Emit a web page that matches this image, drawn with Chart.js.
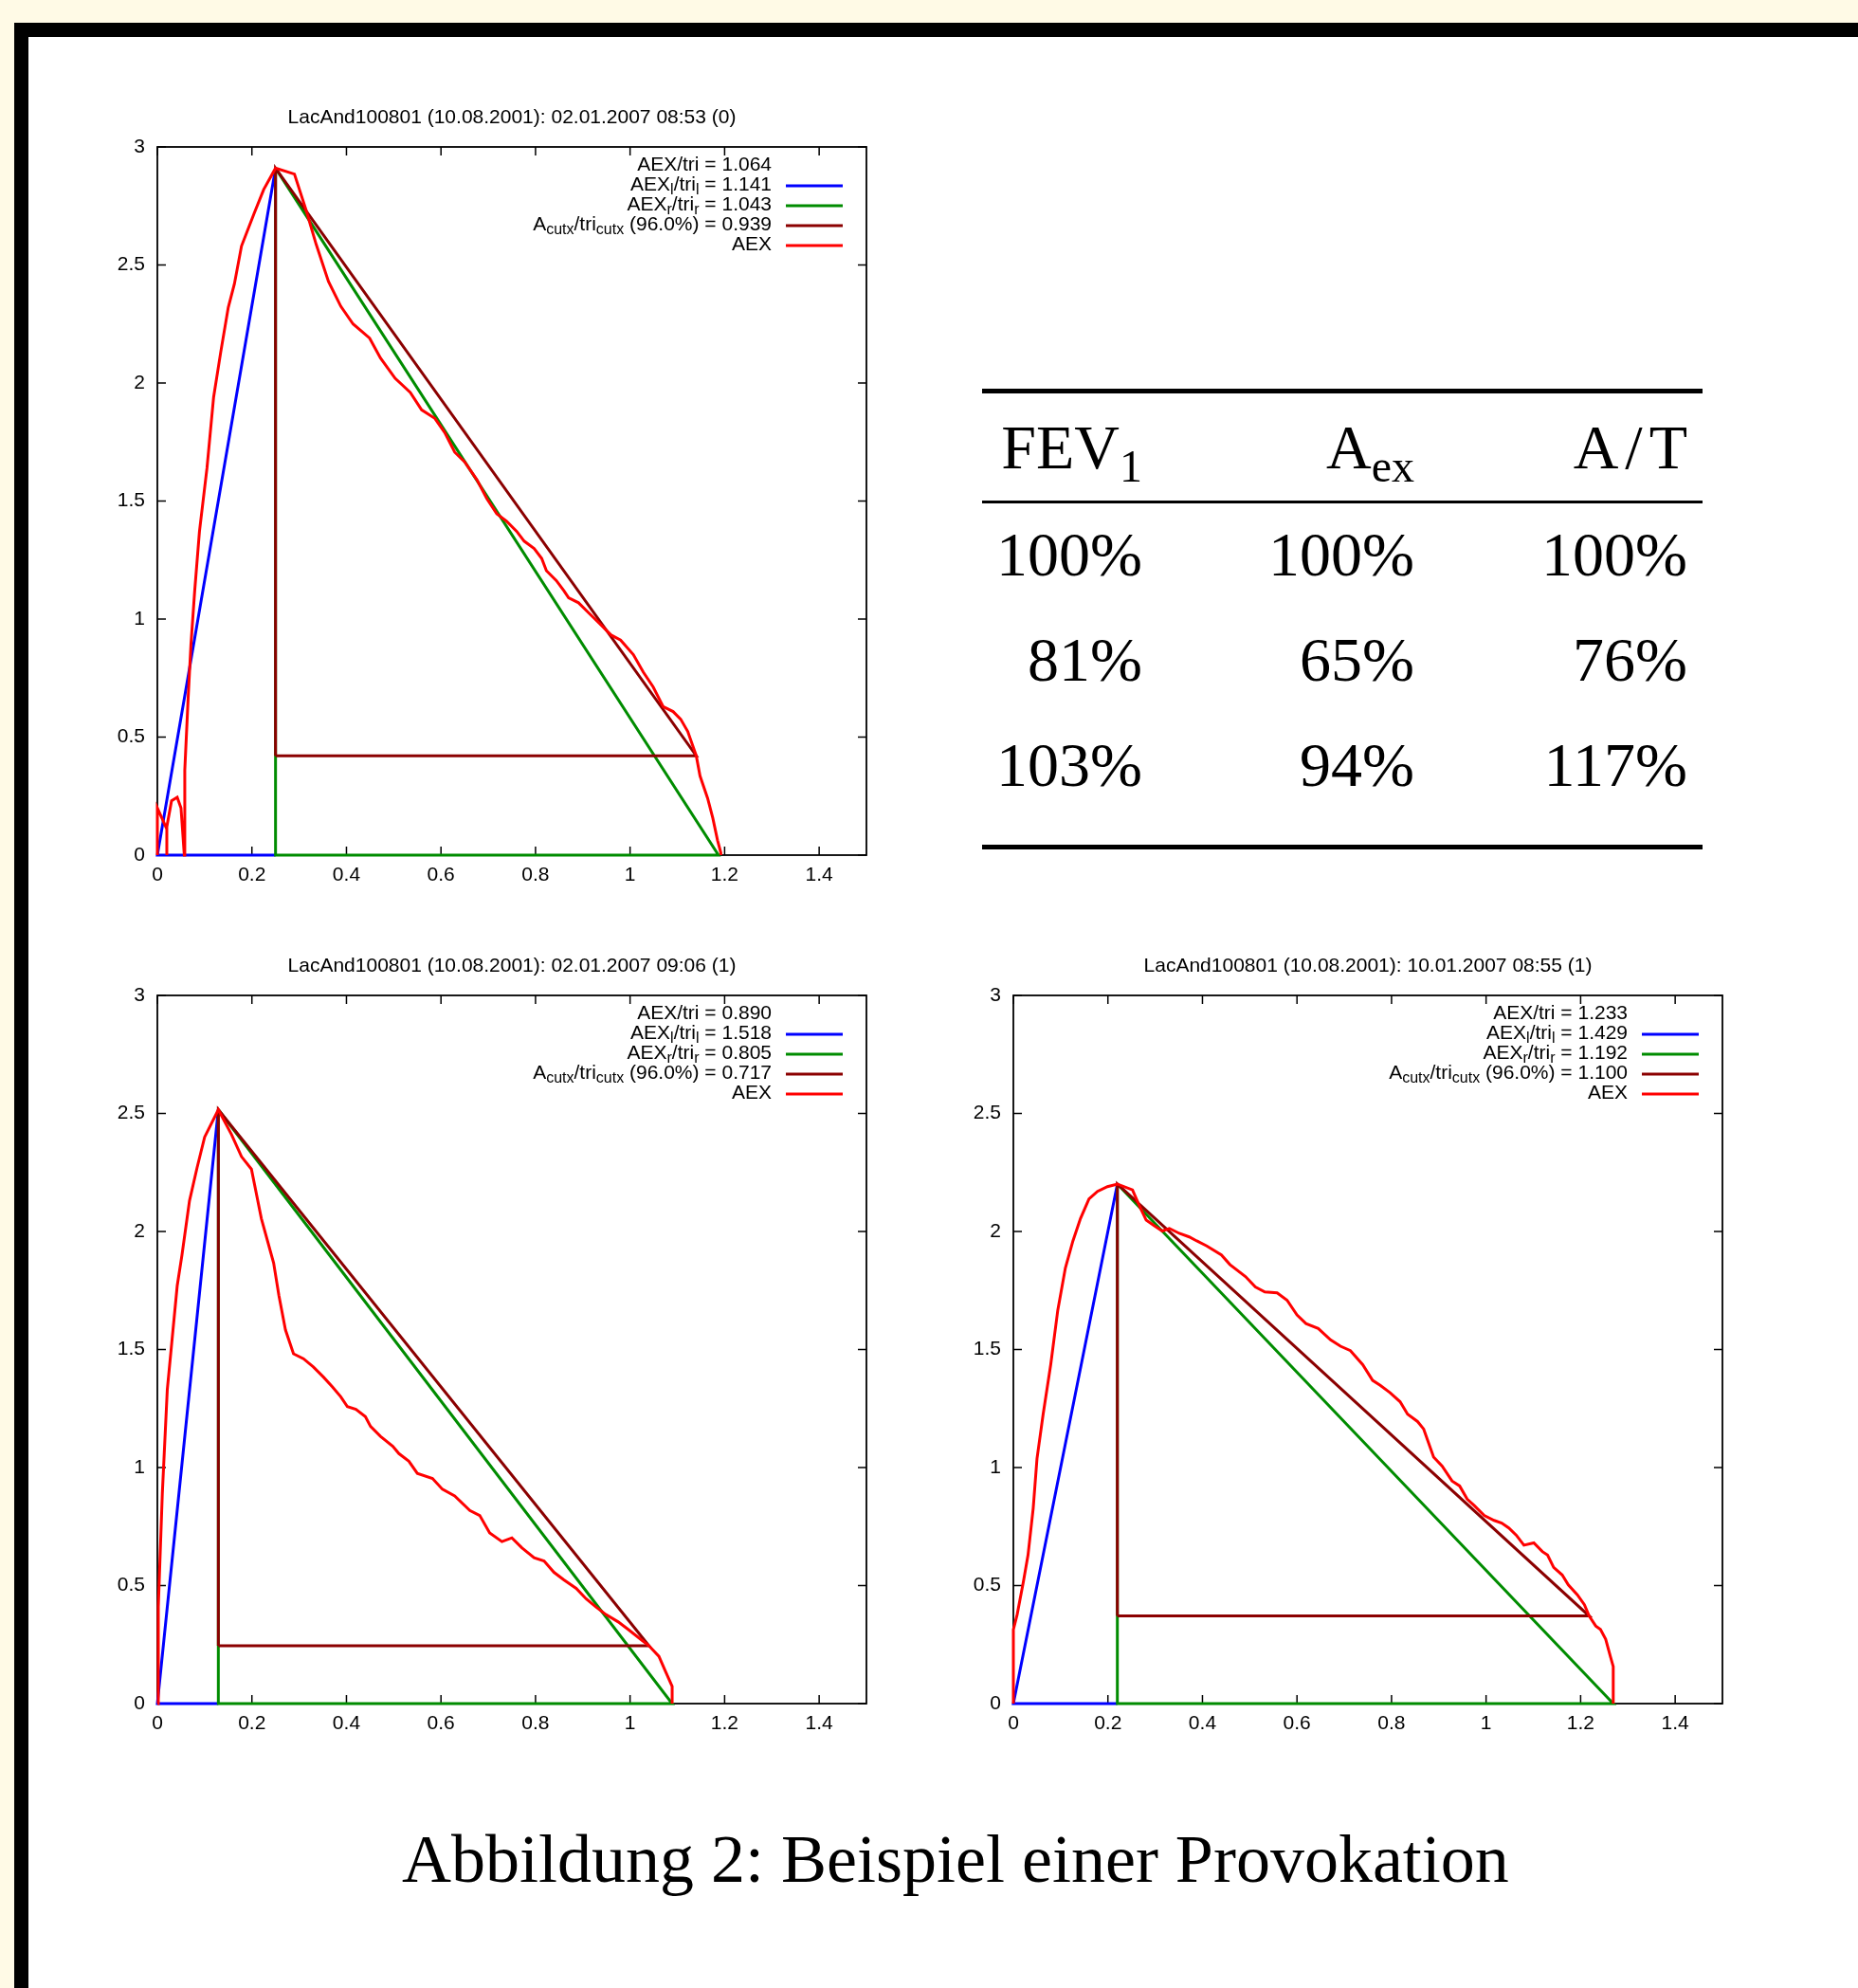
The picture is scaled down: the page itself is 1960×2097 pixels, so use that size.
<!DOCTYPE html>
<html>
<head>
<meta charset="utf-8">
<script src="https://cdn.jsdelivr.net/npm/chart.js@4.4.0/dist/chart.umd.min.js"></script>
<style>
  html, body { margin: 0; padding: 0; }
  body { width: 1960px; height: 2097px; background: #fffae6; position: relative; overflow: hidden; }
  .abs { position: absolute; }
  #shade { left: 15px; top: 24px; right: 0; bottom: 0; background: #000; }
  #page { left: 30px; top: 39px; right: 0; bottom: 0; background: #fff; }
  .rule { background: #000; left: 1036px; width: 760px; }
  .cell { font-family: "Liberation Serif", "DejaVu Serif", serif; font-size: 66px; line-height: 68px;
          width: 400px; text-align: right; white-space: nowrap; color: #000; }
  .sub { font-size: 48px; position: relative; top: 14px; }
  .sl { margin: 0 7px; }
  #caption { font-family: "Liberation Serif", "DejaVu Serif", serif; font-size: 72px; line-height: 72px;
             left: 424px; top: 1925px; white-space: nowrap; color: #000; }
</style>
</head>
<body>
<div id="shade" class="abs"></div>
<div id="page" class="abs"></div>

<div class="abs" style="left:101px;top:95px"><canvas id="c1" width="840" height="860"></canvas></div>
<div class="abs" style="left:101px;top:990px"><canvas id="c2" width="840" height="860"></canvas></div>
<div class="abs" style="left:1004px;top:990px"><canvas id="c3" width="840" height="860"></canvas></div>

<div id="table"></div>
<div id="caption" class="abs">Abbildung 2: Beispiel einer Provokation</div>

<script>
// axis ticks
const X_TICKS = [0, 0.2, 0.4, 0.6, 0.8, 1, 1.2, 1.4];
const X_TICK_LABELS = ["0", "0.2", "0.4", "0.6", "0.8", "1", "1.2", "1.4"];
const Y_TICKS = [0, 0.5, 1, 1.5, 2, 2.5, 3];
const Y_TICK_LABELS = ["0", "0.5", "1", "1.5", "2", "2.5", "3"];

const TITLES = [
  "LacAnd100801 (10.08.2001): 02.01.2007 08:53 (0)",
  "LacAnd100801 (10.08.2001): 02.01.2007 09:06 (1)",
  "LacAnd100801 (10.08.2001): 10.01.2007 08:55 (1)"
];
const RATIO_ALL = ["1.064", "0.890", "1.233"];
const RATIO_LEFT = ["1.141", "1.518", "1.429"];
const RATIO_RIGHT = ["1.043", "0.805", "1.192"];
const RATIO_CUT = ["0.939", "0.717", "1.100"];
const CUT_PCT = ["96.0%", "96.0%", "96.0%"];

// triangle corners per plot
const PEAK_X = [0.25, 0.129, 0.22];
const PEAK_Y = [2.91, 2.516, 2.201];
const END_X = [1.187, 1.089, 1.269];
const CUT_X = [1.140, 1.040, 1.218];
const CUT_Y = [0.421, 0.245, 0.371];

// measured AEX curves
const AEX1_X = [0, 0, 0.02, 0.02, 0.02, 0.03, 0.042, 0.05, 0.057, 0.058, 0.065, 0.071, 0.079, 0.089, 0.105, 0.119, 0.134, 0.15, 0.163, 0.178, 0.205, 0.225, 0.25, 0.29, 0.315, 0.336, 0.362, 0.388, 0.414, 0.449, 0.472, 0.503, 0.535, 0.559, 0.587, 0.608, 0.629, 0.65, 0.676, 0.697, 0.718, 0.739, 0.76, 0.776, 0.797, 0.813, 0.823, 0.844, 0.86, 0.87, 0.891, 0.912, 0.939, 0.96, 0.98, 1.007, 1.028, 1.049, 1.07, 1.091, 1.107, 1.122, 1.14, 1.148, 1.164, 1.175, 1.185, 1.192, 1.192];
const AEX1_Y = [0, 0.2, 0.11, 0, 0.12, 0.23, 0.245, 0.2, 0, 0.36, 0.66, 0.89, 1.12, 1.37, 1.64, 1.94, 2.13, 2.32, 2.42, 2.58, 2.72, 2.82, 2.91, 2.885, 2.73, 2.587, 2.43, 2.325, 2.25, 2.19, 2.106, 2.02, 1.96, 1.886, 1.85, 1.79, 1.707, 1.666, 1.59, 1.51, 1.446, 1.414, 1.372, 1.33, 1.299, 1.257, 1.205, 1.163, 1.12, 1.09, 1.069, 1.027, 0.974, 0.932, 0.911, 0.849, 0.775, 0.712, 0.629, 0.608, 0.576, 0.524, 0.421, 0.335, 0.241, 0.157, 0.063, 0.01, 0];

const AEX2_X = [0, 0.002, 0.0105, 0.021, 0.031, 0.042, 0.052, 0.068, 0.084, 0.1, 0.129, 0.157, 0.178, 0.199, 0.22, 0.246, 0.257, 0.271, 0.288, 0.309, 0.33, 0.351, 0.37, 0.388, 0.402, 0.42, 0.44, 0.451, 0.472, 0.498, 0.511, 0.532, 0.55, 0.582, 0.603, 0.629, 0.661, 0.682, 0.703, 0.729, 0.75, 0.771, 0.797, 0.818, 0.839, 0.86, 0.886, 0.907, 0.928, 0.949, 0.975, 0.996, 1.022, 1.04, 1.061, 1.075, 1.089, 1.089];
const AEX2_Y = [0, 0.41, 0.89, 1.33, 1.54, 1.77, 1.9, 2.13, 2.27, 2.4, 2.516, 2.41, 2.317, 2.264, 2.055, 1.866, 1.73, 1.583, 1.482, 1.461, 1.426, 1.384, 1.342, 1.3, 1.258, 1.247, 1.216, 1.174, 1.132, 1.09, 1.059, 1.027, 0.975, 0.954, 0.908, 0.88, 0.818, 0.797, 0.723, 0.686, 0.702, 0.66, 0.618, 0.604, 0.556, 0.524, 0.488, 0.444, 0.409, 0.377, 0.346, 0.314, 0.273, 0.245, 0.2, 0.136, 0.073, 0];

const AEX3_X = [0, 0, 0.008, 0.021, 0.031, 0.042, 0.05, 0.063, 0.079, 0.094, 0.11, 0.126, 0.142, 0.16, 0.178, 0.199, 0.22, 0.252, 0.267, 0.281, 0.299, 0.315, 0.33, 0.351, 0.372, 0.388, 0.409, 0.44, 0.458, 0.491, 0.512, 0.532, 0.558, 0.579, 0.6, 0.619, 0.645, 0.671, 0.692, 0.713, 0.739, 0.76, 0.776, 0.797, 0.818, 0.834, 0.855, 0.868, 0.889, 0.907, 0.928, 0.944, 0.96, 0.975, 0.996, 1.017, 1.033, 1.048, 1.064, 1.08, 1.101, 1.119, 1.13, 1.143, 1.161, 1.174, 1.193, 1.208, 1.218, 1.232, 1.242, 1.253, 1.263, 1.269, 1.269];
const AEX3_Y = [0, 0.314, 0.377, 0.514, 0.629, 0.828, 1.038, 1.226, 1.436, 1.667, 1.845, 1.96, 2.055, 2.138, 2.17, 2.19, 2.201, 2.176, 2.107, 2.048, 2.023, 2.002, 2.013, 1.992, 1.977, 1.96, 1.939, 1.901, 1.86, 1.809, 1.765, 1.744, 1.74, 1.709, 1.646, 1.61, 1.589, 1.541, 1.514, 1.495, 1.436, 1.369, 1.348, 1.317, 1.279, 1.226, 1.195, 1.163, 1.044, 1.006, 0.943, 0.922, 0.866, 0.839, 0.797, 0.776, 0.765, 0.744, 0.713, 0.671, 0.681, 0.644, 0.629, 0.577, 0.545, 0.503, 0.461, 0.419, 0.371, 0.329, 0.314, 0.273, 0.199, 0.157, 0];

// table
const TABLE_HEAD = ["FEV_1", "A_ex", "A/T"];
const TABLE_FEV1 = ["100%", "81%", "103%"];
const TABLE_AEX = ["100%", "65%", "94%"];
const TABLE_AT = ["100%", "76%", "117%"];

const BLUE = "#0000ff", GREEN = "#008c00", DARKRED = "#8b0000", RED = "#ff0000";
const FONT = '"Liberation Sans", Arial, sans-serif';

// split "AEX_l/tri_l" into normal / subscript pieces
function richParts(s) {
  const parts = [];
  let last = 0;
  s.replace(/_([A-Za-z0-9]+)/g, (m, g, off) => {
    if (off > last) parts.push({ t: s.slice(last, off), sub: false });
    parts.push({ t: g, sub: true });
    last = off + m.length;
  });
  if (last < s.length) parts.push({ t: s.slice(last), sub: false });
  return parts;
}

const gpFrame = {
  id: "gpFrame",
  beforeDatasetsDraw(chart) {
    const { ctx, chartArea: a, scales } = chart;
    ctx.save();
    ctx.strokeStyle = "#000";
    ctx.lineWidth = 1.8;
    ctx.strokeRect(a.left, a.top, a.right - a.left, a.bottom - a.top);
    ctx.lineWidth = 1.5;
    ctx.beginPath();
    scales.x.ticks.forEach(t => {
      const p = scales.x.getPixelForValue(t.value);
      ctx.moveTo(p, a.bottom); ctx.lineTo(p, a.bottom - 9);
      ctx.moveTo(p, a.top); ctx.lineTo(p, a.top + 9);
    });
    scales.y.ticks.forEach(t => {
      const p = scales.y.getPixelForValue(t.value);
      ctx.moveTo(a.left, p); ctx.lineTo(a.left + 9, p);
      ctx.moveTo(a.right, p); ctx.lineTo(a.right - 9, p);
    });
    ctx.stroke();
    ctx.restore();
  }
};

const gpTitle = {
  id: "gpTitle",
  afterDraw(chart, args, opts) {
    const { ctx, chartArea: a } = chart;
    ctx.save();
    ctx.font = "21px " + FONT;
    ctx.fillStyle = "#000";
    ctx.textAlign = "center";
    ctx.textBaseline = "middle";
    ctx.fillText(opts.text, (a.left + a.right) / 2, a.top - 31);
    ctx.restore();
  }
};

const gpKey = {
  id: "gpKey",
  afterDraw(chart, args, opts) {
    const { ctx, chartArea: a } = chart;
    ctx.save();
    ctx.textBaseline = "middle";
    ctx.fillStyle = "#000";
    opts.entries.forEach((e, k) => {
      const y = a.top + 19 + 21 * k;
      const parts = richParts(e.text);
      let w = 0;
      parts.forEach(p => {
        ctx.font = (p.sub ? "16px " : "21px ") + FONT;
        p.w = ctx.measureText(p.t).width;
        w += p.w;
      });
      let x = a.right - 100 - w;
      parts.forEach(p => {
        ctx.font = (p.sub ? "16px " : "21px ") + FONT;
        ctx.fillText(p.t, x, p.sub ? y + 6 : y);
        x += p.w;
      });
      if (e.color) {
        ctx.strokeStyle = e.color;
        ctx.lineWidth = 3;
        ctx.beginPath();
        ctx.moveTo(a.right - 85, y + 1);
        ctx.lineTo(a.right - 25, y + 1);
        ctx.stroke();
      }
    });
    ctx.restore();
  }
};

function pts(xs, ys) { return xs.map((x, k) => ({ x, y: ys[k] })); }

function lineSet(label, data, color) {
  return { label, data, borderColor: color, backgroundColor: color, showLine: true,
           pointRadius: 0, borderWidth: 3, fill: false, tension: 0, clip: false };
}

function makeChart(id, i, aexX, aexY) {
  const px = PEAK_X[i], py = PEAK_Y[i], ex = END_X[i], cx = CUT_X[i], cy = CUT_Y[i];
  return new Chart(document.getElementById(id), {
    type: "scatter",
    data: {
      datasets: [
        lineSet("AEX", pts(aexX, aexY), RED),
        lineSet("cutx", pts([px, px, cx, px], [cy, py, cy, cy]), DARKRED),
        lineSet("right", pts([px, ex, px, px], [py, 0, 0, py]), GREEN),
        lineSet("left", pts([px, 0, px], [0, 0, py]), BLUE)
      ]
    },
    options: {
      responsive: false, animation: false, events: [],
      layout: { padding: { left: 0, top: 60, right: 27, bottom: 13 } },
      plugins: {
        legend: { display: false }, tooltip: { enabled: false },
        gpTitle: { text: TITLES[i] },
        gpKey: { entries: [
          { text: "AEX/tri = " + RATIO_ALL[i] },
          { text: "AEX_l/tri_l = " + RATIO_LEFT[i], color: BLUE },
          { text: "AEX_r/tri_r = " + RATIO_RIGHT[i], color: GREEN },
          { text: "A_cutx/tri_cutx (" + CUT_PCT[i] + ") = " + RATIO_CUT[i], color: DARKRED },
          { text: "AEX", color: RED }
        ] }
      },
      scales: {
        x: {
          type: "linear", min: 0, max: 1.5,
          grid: { display: false, drawTicks: false }, border: { display: false },
          afterBuildTicks: s => { s.ticks = X_TICKS.map(v => ({ value: v })); },
          afterFit: s => { s.height = 40; },
          ticks: { padding: 9, color: "#000", font: { family: FONT, size: 21 }, maxRotation: 0, autoSkip: false,
                   callback: (v, k) => X_TICK_LABELS[k] }
        },
        y: {
          type: "linear", min: 0, max: 3,
          grid: { display: false, drawTicks: false }, border: { display: false },
          afterBuildTicks: s => { s.ticks = Y_TICKS.map(v => ({ value: v })); },
          afterFit: s => { s.width = 65; },
          ticks: { padding: 13, color: "#000", font: { family: FONT, size: 21 }, autoSkip: false,
                   callback: (v, k) => Y_TICK_LABELS[k] }
        }
      }
    },
    plugins: [gpFrame, gpTitle, gpKey]
  });
}

makeChart("c1", 0, AEX1_X, AEX1_Y);
makeChart("c2", 1, AEX2_X, AEX2_Y);
makeChart("c3", 2, AEX3_X, AEX3_Y);

// table built from the arrays
(function buildTable() {
  const host = document.getElementById("table");
  const rule = (top, h) => {
    const d = document.createElement("div");
    d.className = "abs rule";
    d.style.top = top + "px"; d.style.height = h + "px";
    host.appendChild(d);
  };
  rule(410, 5); rule(528, 3); rule(891, 5);
  const colRight = [1205, 1492, 1780];
  const cell = (html, col, baseline) => {
    const d = document.createElement("div");
    d.className = "abs cell";
    d.style.left = (colRight[col] - 400) + "px";
    d.style.top = (baseline - 57) + "px";
    d.innerHTML = html;
    host.appendChild(d);
  };
  TABLE_HEAD.forEach((h, c) => {
    const html = h.replace("/", '<span class="sl">/</span>')
                  .replace(/_([A-Za-z0-9]+)/, '<span class="sub">$1</span>');
    cell(html, c, 495);
  });
  const rowBase = [608, 719, 830];
  rowBase.forEach((b, r) => {
    cell(TABLE_FEV1[r], 0, b);
    cell(TABLE_AEX[r], 1, b);
    cell(TABLE_AT[r], 2, b);
  });
})();
</script>
</body>
</html>
